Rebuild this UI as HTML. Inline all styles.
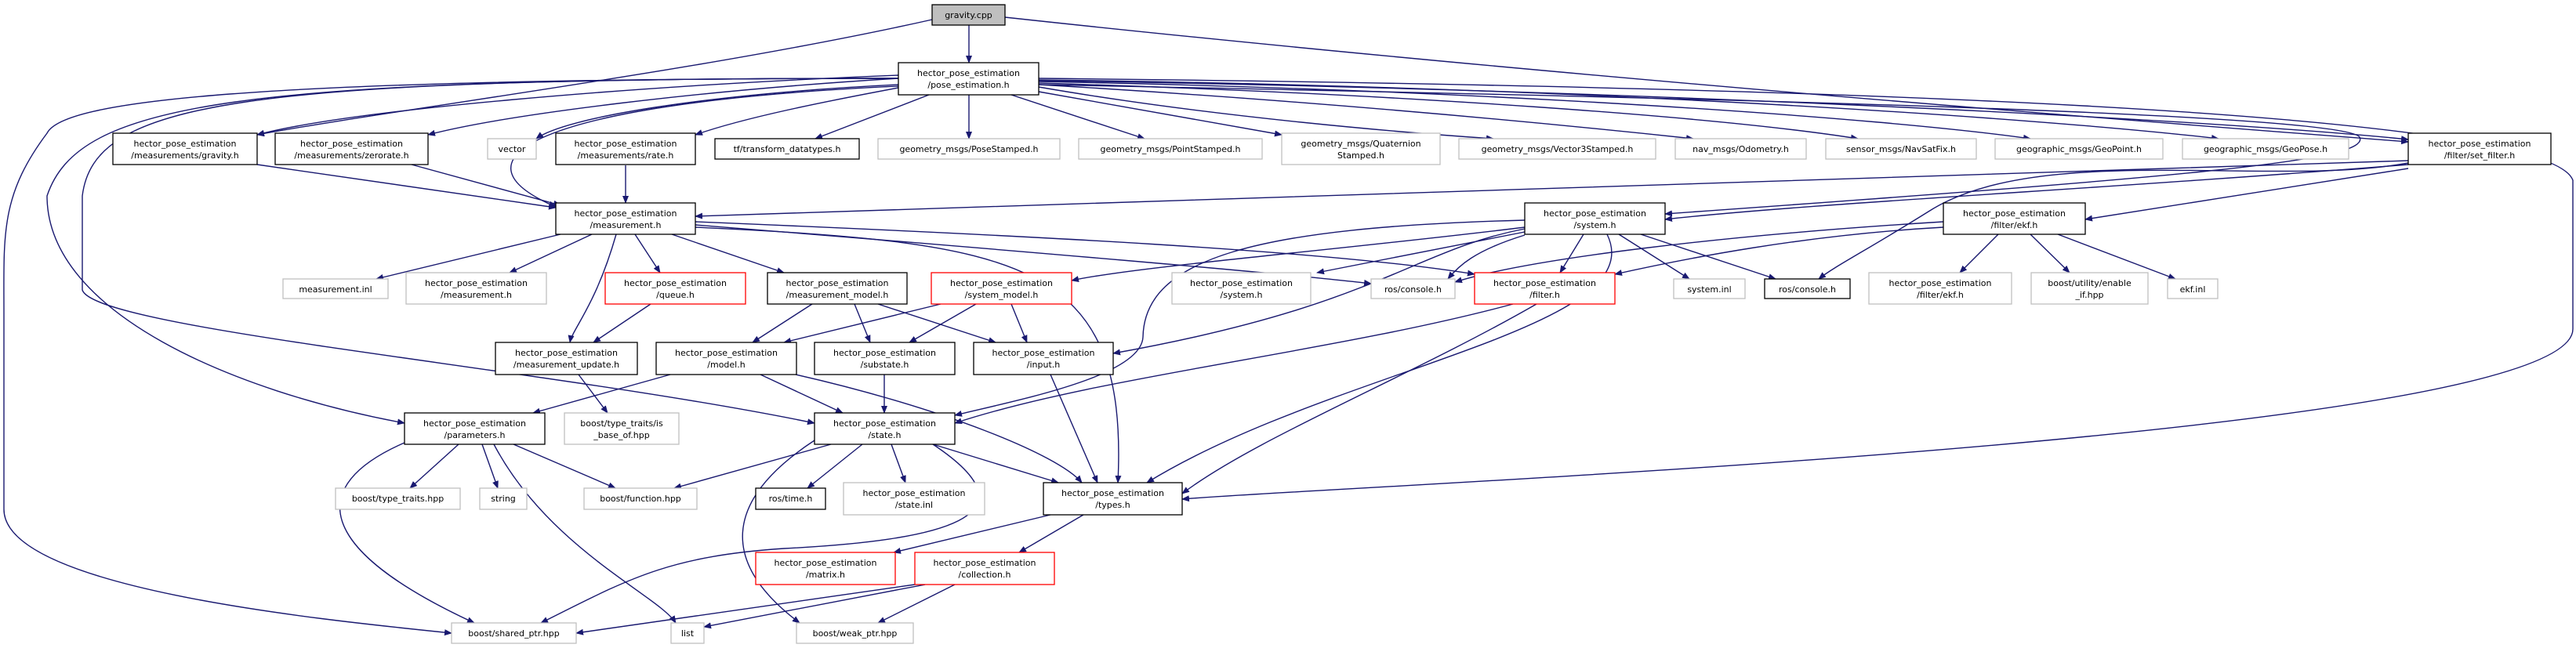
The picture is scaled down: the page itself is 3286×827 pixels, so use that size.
<!DOCTYPE html>
<html><head><meta charset="utf-8"><style>
html,body{margin:0;padding:0;background:#fff;}
svg{display:block;}
text{font-family:"DejaVu Sans","Liberation Sans",sans-serif;font-size:11px;fill:#000;text-anchor:middle;}
.e{fill:none;stroke:#191970;stroke-width:1.4;marker-end:url(#a);}
.b{fill:#fff;stroke:#000;stroke-width:1.3;}
.g{fill:#fff;stroke:#bfbfbf;stroke-width:1.3;}
.r{fill:#fff;stroke:#ff0000;stroke-width:1.3;}
</style></head><body>
<svg width="3286" height="827" viewBox="0 0 3286 827" xmlns="http://www.w3.org/2000/svg">
<defs><marker id="a" markerWidth="10" markerHeight="8" refX="9" refY="4" orient="auto" markerUnits="userSpaceOnUse"><path d="M0,0 L10,4 L0,8 z" fill="#191970"/></marker></defs>
<g>
<path class="e" d="M1236,32 L1236,80"/>
<path class="e" d="M1189,25 C900,90 500,140 328,172"/>
<path class="e" d="M1282,22 C2000,100 2800,160 3072,181"/>
<path class="e" d="M1146,96 C800,110 450,140 328,172"/>
<path class="e" d="M1146,100 C900,115 650,145 546,172"/>
<path class="e" d="M1146,108 C900,120 720,150 684,177"/>
<path class="e" d="M1146,112 C1050,130 950,150 887,172"/>
<path class="e" d="M1185,121 L1040,177"/>
<path class="e" d="M1236,121 L1236,177"/>
<path class="e" d="M1290,121 L1460,177"/>
<path class="e" d="M1325,117 L1635,172"/>
<path class="e" d="M1325,111 C1550,150 1800,170 1905,177"/>
<path class="e" d="M1325,108 C1700,130 2000,160 2160,177"/>
<path class="e" d="M1325,106 C1800,120 2200,150 2370,177"/>
<path class="e" d="M1325,104 C1900,115 2400,150 2590,177"/>
<path class="e" d="M1325,102 C2000,110 2600,150 2830,177"/>
<path class="e" d="M1325,103 C2000,112 2800,150 3072,178"/>
<path class="e" d="M1325,108 C2200,125 2990,145 3010,175 C3025,205 2800,225 2124,273"/>
<path class="e" d="M1325,100 C2300,110 3250,140 3282,230 L3282,420 C3282,560 1700,620 1508,637"/>
<path class="e" d="M1146,110 C700,130 560,200 709,264"/>
<path class="e" d="M1146,100 C300,100 100,130 60,250 C60,400 300,500 516,540"/>
<path class="e" d="M1146,100 C300,100 120,130 105,250 L105,370 C120,420 700,470 1039,540"/>
<path class="e" d="M1146,100 C300,100 80,130 60,170 C0,250 5,300 5,400 L5,650 C5,750 400,790 576,808"/>
<path class="e" d="M328,210 L709,265"/>
<path class="e" d="M525,210 L715,262"/>
<path class="e" d="M798,211 L798,259"/>
<path class="e" d="M715,299 L480,356"/>
<path class="e" d="M755,299 L650,348"/>
<path class="e" d="M810,299 L842,348"/>
<path class="e" d="M857,299 L1000,348"/>
<path class="e" d="M786,299 C760,390 730,420 727,437"/>
<path class="e" d="M830,388 L757,437"/>
<path class="e" d="M887,290 C1300,310 1440,330 1426,616"/>
<path class="e" d="M887,287 C1300,320 1650,350 1749,362"/>
<path class="e" d="M887,283 C1300,300 1700,320 1881,350"/>
<path class="e" d="M3072,205 C2500,230 1500,250 887,276"/>
<path class="e" d="M3072,210 C2700,240 2300,260 2124,280"/>
<path class="e" d="M3072,215 L2660,280"/>
<path class="e" d="M3072,208 C2900,240 2600,180 2460,270 C2380,320 2340,340 2320,356"/>
<path class="e" d="M1945,290 C1700,320 1450,340 1367,358"/>
<path class="e" d="M1945,296 L1680,348"/>
<path class="e" d="M1945,300 C1880,320 1860,340 1847,356"/>
<path class="e" d="M2020,299 L1990,348"/>
<path class="e" d="M2065,299 L2155,356"/>
<path class="e" d="M2093,299 L2265,356"/>
<path class="e" d="M1945,292 C1800,320 1760,390 1420,451"/>
<path class="e" d="M1945,281 C1600,290 1460,330 1458,430 C1456,480 1300,510 1218,530"/>
<path class="e" d="M2050,299 C2110,420 1700,470 1463,616"/>
<path class="e" d="M1930,388 C1700,450 1400,480 1218,540"/>
<path class="e" d="M1960,388 C1800,480 1600,560 1508,630"/>
<path class="e" d="M2479,290 C2300,300 2150,330 2060,350"/>
<path class="e" d="M2479,283 C2200,300 1950,330 1856,360"/>
<path class="e" d="M2549,299 L2500,348"/>
<path class="e" d="M2590,299 L2640,348"/>
<path class="e" d="M2625,299 L2775,356"/>
<path class="e" d="M1036,388 L960,437"/>
<path class="e" d="M1090,388 L1110,437"/>
<path class="e" d="M1120,388 L1270,437"/>
<path class="e" d="M1200,388 L1000,437"/>
<path class="e" d="M1245,388 L1160,437"/>
<path class="e" d="M1290,388 L1310,437"/>
<path class="e" d="M855,478 L680,527"/>
<path class="e" d="M970,478 L1075,527"/>
<path class="e" d="M1015,478 C1200,520 1350,580 1380,616"/>
<path class="e" d="M738,478 L775,527"/>
<path class="e" d="M1128,478 L1128,527"/>
<path class="e" d="M1340,478 L1400,616"/>
<path class="e" d="M585,567 L523,623"/>
<path class="e" d="M615,567 L635,623"/>
<path class="e" d="M655,567 L785,623"/>
<path class="e" d="M630,567 C700,700 840,760 862,795"/>
<path class="e" d="M516,565 C390,620 400,700 605,795"/>
<path class="e" d="M1060,567 L860,623"/>
<path class="e" d="M1100,567 L1030,623"/>
<path class="e" d="M1137,567 L1155,616"/>
<path class="e" d="M1190,567 L1350,616"/>
<path class="e" d="M1190,567 C1330,660 1200,690 1000,700 C850,710 800,740 690,795"/>
<path class="e" d="M1039,562 C920,640 920,720 1020,795"/>
<path class="e" d="M1340,657 L1140,705"/>
<path class="e" d="M1382,657 L1300,705"/>
<path class="e" d="M1167,746 L735,808"/>
<path class="e" d="M1180,746 L898,800"/>
<path class="e" d="M1218,746 L1120,795"/>
</g>
<g>
<rect x="1189" y="6" width="93" height="26" fill="#bfbfbf" stroke="#000" stroke-width="1.3"/><text x="1235.5" y="23">gravity.cpp</text>
<rect class="b" x="1146" y="80" width="179" height="41"/><text x="1235.5" y="97">hector_pose_estimation</text><text x="1235.5" y="112">/pose_estimation.h</text>

<rect class="b" x="144" y="170" width="184" height="40"/><text x="236" y="187">hector_pose_estimation</text><text x="236" y="202">/measurements/gravity.h</text>
<rect class="b" x="351" y="170" width="195" height="40"/><text x="448.5" y="187">hector_pose_estimation</text><text x="448.5" y="202">/measurements/zerorate.h</text>
<rect class="g" x="622" y="177" width="62" height="26"/><text x="653" y="194">vector</text>
<rect class="b" x="709" y="170" width="178" height="40"/><text x="798" y="187">hector_pose_estimation</text><text x="798" y="202">/measurements/rate.h</text>
<rect class="b" x="912" y="177" width="184" height="26"/><text x="1004" y="194">tf/transform_datatypes.h</text>
<rect class="g" x="1120" y="177" width="232" height="26"/><text x="1236" y="194">geometry_msgs/PoseStamped.h</text>
<rect class="g" x="1376" y="177" width="234" height="26"/><text x="1493" y="194">geometry_msgs/PointStamped.h</text>
<rect class="g" x="1635" y="170" width="202" height="40"/><text x="1736" y="187">geometry_msgs/Quaternion</text><text x="1736" y="202">Stamped.h</text>
<rect class="g" x="1861" y="177" width="251" height="26"/><text x="1986.5" y="194">geometry_msgs/Vector3Stamped.h</text>
<rect class="g" x="2137" y="177" width="167" height="26"/><text x="2220.5" y="194">nav_msgs/Odometry.h</text>
<rect class="g" x="2329" y="177" width="192" height="26"/><text x="2425" y="194">sensor_msgs/NavSatFix.h</text>
<rect class="g" x="2545" y="177" width="214" height="26"/><text x="2652" y="194">geographic_msgs/GeoPoint.h</text>
<rect class="g" x="2784" y="177" width="212" height="26"/><text x="2890" y="194">geographic_msgs/GeoPose.h</text>
<rect class="b" x="3072" y="170" width="182" height="40"/><text x="3163" y="187">hector_pose_estimation</text><text x="3163" y="202">/filter/set_filter.h</text>

<rect class="b" x="709" y="259" width="178" height="40"/><text x="798" y="276">hector_pose_estimation</text><text x="798" y="291">/measurement.h</text>
<rect class="b" x="1945" y="259" width="179" height="40"/><text x="2034.5" y="276">hector_pose_estimation</text><text x="2034.5" y="291">/system.h</text>
<rect class="b" x="2479" y="259" width="181" height="40"/><text x="2569.5" y="276">hector_pose_estimation</text><text x="2569.5" y="291">/filter/ekf.h</text>

<rect class="g" x="361" y="356" width="134" height="25"/><text x="428" y="373">measurement.inl</text>
<rect class="g" x="518" y="348" width="179" height="40"/><text x="607.5" y="365">hector_pose_estimation</text><text x="607.5" y="380">/measurement.h</text>
<rect class="r" x="772" y="348" width="179" height="40"/><text x="861.5" y="365">hector_pose_estimation</text><text x="861.5" y="380">/queue.h</text>
<rect class="b" x="979" y="348" width="178" height="40"/><text x="1068" y="365">hector_pose_estimation</text><text x="1068" y="380">/measurement_model.h</text>
<rect class="r" x="1188" y="348" width="179" height="40"/><text x="1277.5" y="365">hector_pose_estimation</text><text x="1277.5" y="380">/system_model.h</text>
<rect class="g" x="1495" y="348" width="177" height="40"/><text x="1583.5" y="365">hector_pose_estimation</text><text x="1583.5" y="380">/system.h</text>
<rect class="g" x="1749" y="356" width="107" height="25"/><text x="1802.5" y="373">ros/console.h</text>
<rect class="r" x="1881" y="348" width="179" height="40"/><text x="1970.5" y="365">hector_pose_estimation</text><text x="1970.5" y="380">/filter.h</text>
<rect class="g" x="2135" y="356" width="91" height="25"/><text x="2180.5" y="373">system.inl</text>
<rect class="b" x="2251" y="356" width="109" height="25"/><text x="2305.5" y="373">ros/console.h</text>
<rect class="g" x="2384" y="348" width="182" height="40"/><text x="2475" y="365">hector_pose_estimation</text><text x="2475" y="380">/filter/ekf.h</text>
<rect class="g" x="2591" y="348" width="149" height="40"/><text x="2665.5" y="365">boost/utility/enable</text><text x="2665.5" y="380">_if.hpp</text>
<rect class="g" x="2765" y="356" width="64" height="25"/><text x="2797" y="373">ekf.inl</text>

<rect class="b" x="632" y="437" width="181" height="41"/><text x="722.5" y="454">hector_pose_estimation</text><text x="722.5" y="469">/measurement_update.h</text>
<rect class="b" x="837" y="437" width="179" height="41"/><text x="926.5" y="454">hector_pose_estimation</text><text x="926.5" y="469">/model.h</text>
<rect class="b" x="1039" y="437" width="179" height="41"/><text x="1128.5" y="454">hector_pose_estimation</text><text x="1128.5" y="469">/substate.h</text>
<rect class="b" x="1242" y="437" width="178" height="41"/><text x="1331" y="454">hector_pose_estimation</text><text x="1331" y="469">/input.h</text>

<rect class="b" x="516" y="527" width="179" height="40"/><text x="605.5" y="544">hector_pose_estimation</text><text x="605.5" y="559">/parameters.h</text>
<rect class="g" x="720" y="527" width="146" height="40"/><text x="793" y="544">boost/type_traits/is</text><text x="793" y="559">_base_of.hpp</text>
<rect class="b" x="1039" y="527" width="179" height="40"/><text x="1128.5" y="544">hector_pose_estimation</text><text x="1128.5" y="559">/state.h</text>

<rect class="g" x="428" y="623" width="159" height="27"/><text x="507.5" y="640">boost/type_traits.hpp</text>
<rect class="g" x="612" y="623" width="60" height="27"/><text x="642" y="640">string</text>
<rect class="g" x="745" y="623" width="144" height="27"/><text x="817" y="640">boost/function.hpp</text>
<rect class="b" x="964" y="623" width="89" height="27"/><text x="1008.5" y="640">ros/time.h</text>
<rect class="g" x="1076" y="616" width="180" height="41"/><text x="1166" y="633">hector_pose_estimation</text><text x="1166" y="648">/state.inl</text>
<rect class="b" x="1331" y="616" width="177" height="41"/><text x="1419.5" y="633">hector_pose_estimation</text><text x="1419.5" y="648">/types.h</text>

<rect class="r" x="964" y="705" width="178" height="41"/><text x="1053" y="722">hector_pose_estimation</text><text x="1053" y="737">/matrix.h</text>
<rect class="r" x="1167" y="705" width="178" height="41"/><text x="1256" y="722">hector_pose_estimation</text><text x="1256" y="737">/collection.h</text>

<rect class="g" x="576" y="795" width="159" height="26"/><text x="655.5" y="812">boost/shared_ptr.hpp</text>
<rect class="g" x="856" y="795" width="42" height="26"/><text x="877" y="812">list</text>
<rect class="g" x="1016" y="795" width="149" height="26"/><text x="1090.5" y="812">boost/weak_ptr.hpp</text>
</g>
</svg>
</body></html>
